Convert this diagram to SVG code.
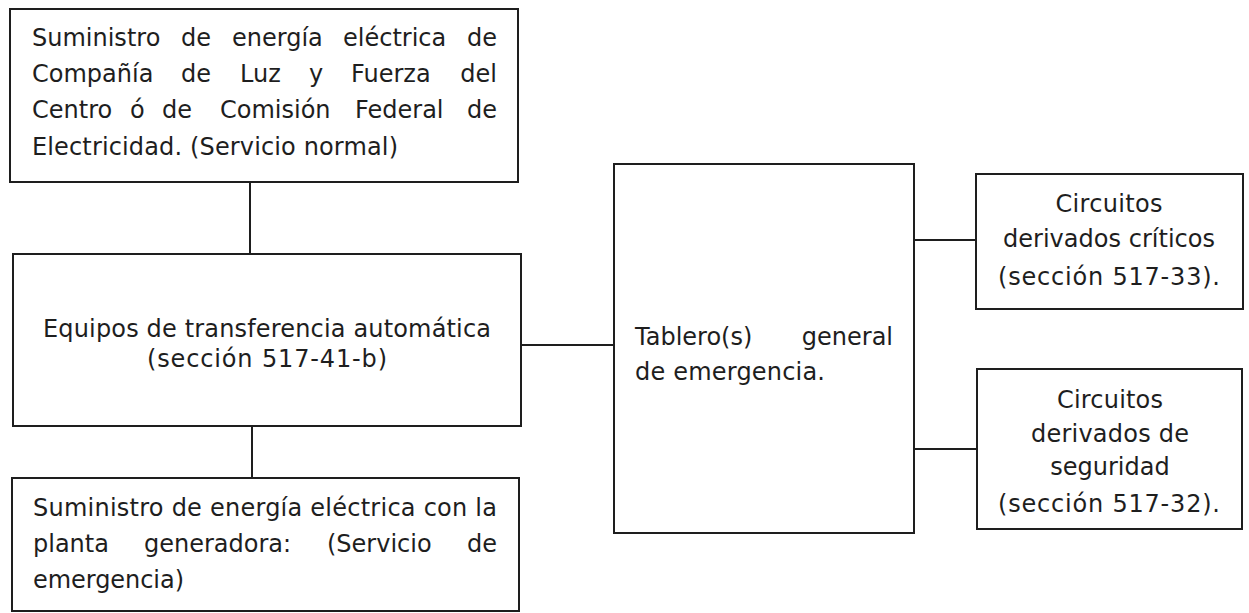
<svg xmlns="http://www.w3.org/2000/svg" width="1249" height="613" viewBox="0 0 1249 613">
<style>
.box{fill:none;stroke:#1e1e1e;stroke-width:2}
.ln{stroke:#1e1e1e;stroke-width:2;fill:none}
text{font-family:"DejaVu Sans","Liberation Sans",sans-serif;font-size:24px;fill:#1e1e1e}
.m{text-anchor:middle}
.e{text-anchor:end}
</style>
<rect width="1249" height="613" fill="#fff"/>
<g id="connectors">
<line class="ln" x1="250" y1="182" x2="250" y2="254"/>
<line class="ln" x1="252" y1="426" x2="252" y2="478"/>
<line class="ln" x1="521" y1="345" x2="614" y2="345"/>
<line class="ln" x1="914" y1="240" x2="976" y2="240"/>
<line class="ln" x1="914" y1="449" x2="977" y2="449"/>
</g>
<g id="suministro-normal">
<rect class="box" x="10" y="9" width="508" height="173"/>
<text y="46"><tspan x="32">Suministro</tspan><tspan x="181">de</tspan><tspan x="232">energía</tspan><tspan x="343">eléctrica</tspan></text>
<text class="e" x="497" y="46">de</text>
<text y="82"><tspan x="32">Compañía</tspan><tspan x="181">de</tspan><tspan x="240">Luz</tspan><tspan x="309">y</tspan><tspan x="351">Fuerza</tspan></text>
<text class="e" x="497" y="82">del</text>
<text y="118"><tspan x="32">Centro</tspan><tspan x="130">ó</tspan><tspan x="162">de</tspan><tspan x="220">Comisión</tspan><tspan x="355">Federal</tspan></text>
<text class="e" x="497" y="118">de</text>
<text x="32" y="155" textLength="366" lengthAdjust="spacing">Electricidad. (Servicio normal)</text>
</g>
<g id="transferencia">
<rect class="box" x="13" y="254" width="508" height="172"/>
<text class="m" x="267" y="337" textLength="448" lengthAdjust="spacing">Equipos de transferencia automática</text>
<text class="m" x="267" y="367" textLength="240" lengthAdjust="spacing">(sección 517-41-b)</text>
</g>
<g id="suministro-emergencia">
<rect class="box" x="12" y="478" width="507" height="133"/>
<text x="33" y="516" textLength="464" lengthAdjust="spacing">Suministro de energía eléctrica con la</text>
<text y="552"><tspan x="33">planta</tspan><tspan x="144">generadora:</tspan><tspan x="327">(Servicio</tspan></text>
<text class="e" x="497" y="552">de</text>
<text x="33" y="588" textLength="151" lengthAdjust="spacing">emergencia)</text>
</g>
<g id="tablero">
<rect class="box" x="614" y="164" width="300" height="369"/>
<text x="635" y="345">Tablero(s)</text>
<text class="e" x="893" y="345">general</text>
<text x="635" y="380" textLength="190" lengthAdjust="spacing">de emergencia.</text>
</g>
<g id="criticos">
<rect class="box" x="976" y="174" width="267" height="135"/>
<text class="m" x="1109" y="212" textLength="107" lengthAdjust="spacing">Circuitos</text>
<text class="m" x="1109" y="247" textLength="212" lengthAdjust="spacing">derivados críticos</text>
<text class="m" x="1109" y="285" textLength="222" lengthAdjust="spacing">(sección 517-33).</text>
</g>
<g id="seguridad">
<rect class="box" x="977" y="369" width="265" height="160"/>
<text class="m" x="1110" y="408" textLength="106" lengthAdjust="spacing">Circuitos</text>
<text class="m" x="1110" y="442" textLength="158" lengthAdjust="spacing">derivados de</text>
<text class="m" x="1110" y="475">seguridad</text>
<text class="m" x="1109" y="512" textLength="222" lengthAdjust="spacing">(sección 517-32).</text>
</g>
</svg>
